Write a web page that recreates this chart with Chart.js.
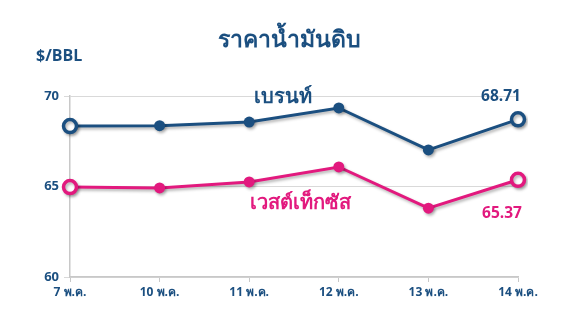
<!DOCTYPE html>
<html>
<head>
<meta charset="utf-8">
<script src="https://cdn.jsdelivr.net/npm/chart.js@4"></script>
<style>
  html, body { margin: 0; padding: 0; background: #fff; }
  #wrap { width: 577px; height: 334px; }
</style>
</head>
<body>
<div id="wrap"><canvas id="c"></canvas></div>
<script>
// ข้อมูลราคาน้ำมันดิบ ($/BBL)
const days = ["7 พ.ค.", "10 พ.ค.", "11 พ.ค.", "12 พ.ค.", "13 พ.ค.", "14 พ.ค."];
const brent = [68.34, 68.36, 68.56, 69.34, 67.02, 68.71];
const wti = [64.97, 64.92, 65.25, 66.08, 63.80, 65.37];
const yTicks = [60, 65, 70];

const BLUE = "#1b4f80";
const PINK = "#e2197e";
const FONT = "'Open Sans', 'Liberation Sans', sans-serif";

// จุดแรกกับจุดสุดท้ายเป็นวงกลมโปร่ง
const lastIdx = days.length - 1;
const isEnd = ctx => ctx.dataIndex === 0 || ctx.dataIndex === lastIdx;

function lineSet(label, data, color) {
  return {
    label: label,
    data: data,
    borderColor: color,
    borderWidth: 3,
    pointRadius: ctx => isEnd(ctx) ? 6.5 : 5.5,
    pointBorderWidth: ctx => isEnd(ctx) ? 3.5 : 0,
    pointBackgroundColor: ctx => isEnd(ctx) ? "#fff" : color,
    pointBorderColor: color,
    tension: 0,
    fill: false
  };
}

// เงาใต้เส้น + ข้อความต่างๆ
const decor = {
  id: "decor",
  beforeDatasetDraw(chart) {
    const c = chart.ctx;
    c.save();
    c.shadowColor = "rgba(0,0,0,0.3)";
    c.shadowBlur = 3;
    c.shadowOffsetX = 1.5;
    c.shadowOffsetY = 2;
  },
  afterDatasetDraw(chart) {
    chart.ctx.restore();
  },
  afterDraw(chart) {
    const c = chart.ctx;
    const x = chart.scales.x, y = chart.scales.y;
    c.save();
    c.textBaseline = "middle";
    c.fillStyle = BLUE;
    c.textAlign = "center";
    c.font = "bold 23px " + FONT;
    c.fillText("ราคาน้ำมันดิบ", 289, 40);
    c.textAlign = "left";
    c.font = "bold 16px " + FONT;
    c.fillText("$/BBL", 36, 56);

    c.textAlign = "center";
    c.font = "bold 20px " + FONT;
    c.fillText("เบรนท์", 283, 97);
    c.font = "bold 15.5px " + FONT;
    c.fillText(brent[lastIdx].toFixed(2), x.getPixelForValue(lastIdx) - 17, y.getPixelForValue(brent[lastIdx]) - 23);
    c.fillStyle = PINK;
    c.font = "bold 20px " + FONT;
    c.fillText("เวสต์เท็กซัส", 300, 203);
    c.font = "bold 15.5px " + FONT;
    c.fillText(wti[lastIdx].toFixed(2), x.getPixelForValue(lastIdx) - 16, y.getPixelForValue(wti[lastIdx]) + 34);
    c.restore();
  }
};

new Chart(document.getElementById("c"), {
  type: "line",
  data: {
    labels: days,
    datasets: [lineSet("เบรนท์", brent, BLUE), lineSet("เวสต์เท็กซัส", wti, PINK)]
  },
  options: {
    responsive: true,
    maintainAspectRatio: false,
    animation: false,
    layout: { padding: { top: 96, right: 59, left: 0, bottom: 0 } },
    plugins: {
      legend: { display: false },
      tooltip: { enabled: false }
    },
    scales: {
      x: {
        offset: false,
        grid: { drawOnChartArea: false, drawTicks: true, tickLength: 5, color: "#c8c8c8" },
        border: { color: "#c8c8c8", width: 1.5 },
        ticks: { color: BLUE, font: { family: FONT, size: 12, weight: "bold" }, padding: 3, maxRotation: 0 },
        afterFit: s => { s.height = 57; }
      },
      y: {
        min: 60,
        max: 70,
        afterBuildTicks: s => { s.ticks = yTicks.map(v => ({ value: v })); },
        grid: { color: "#d9d9d9", tickLength: 6 },
        border: { color: "#c8c8c8", width: 1.5 },
        ticks: { color: BLUE, font: { family: FONT, size: 13, weight: "bold" }, padding: 5 },
        afterFit: s => { s.width = 70; }
      }
    }
  },
  plugins: [decor]
});
</script>
</body>
</html>
